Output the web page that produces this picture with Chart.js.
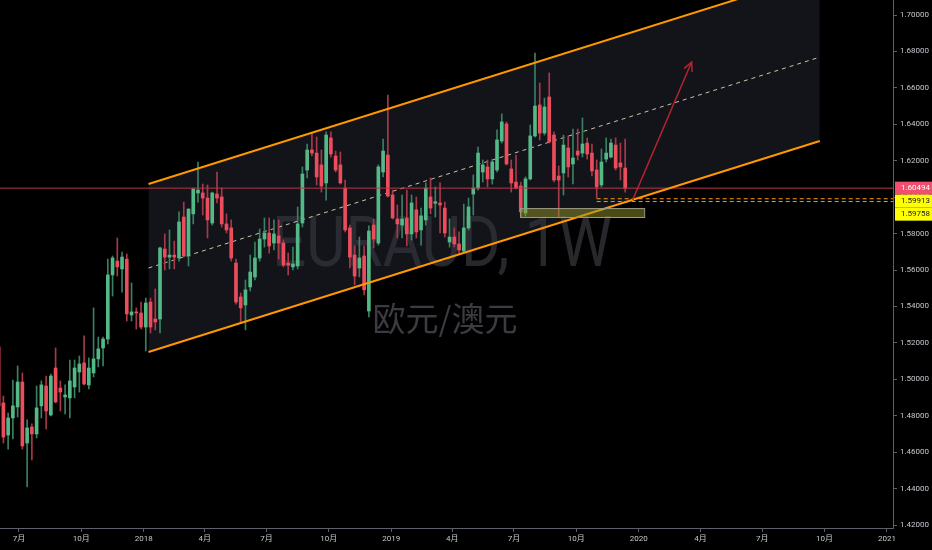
<!DOCTYPE html>
<html><head><meta charset="utf-8">
<script src="https://cdn.jsdelivr.net/npm/chart.js@4.4.0/dist/chart.umd.min.js"></script>
<style>html,body{margin:0;padding:0;background:#000;overflow:hidden}canvas{display:block}</style>
</head><body>
<canvas id="c" width="932" height="550"></canvas>
<script>
// ---- data (weekly EURAUD candles) ----
const firstBarDate = '2017-06-01';
const opens = [1.5178,1.4870,1.4694,1.4788,1.4848,1.4985,1.4650,1.4738,1.4700,1.4854,
1.4963,1.4804,1.5062,1.4952,1.4903,1.4898,1.4958,1.5040,1.5090,1.4969,
1.5035,1.5112,1.5172,1.5221,1.5573,1.5649,1.5606,1.5660,1.5353,1.5370,
1.5364,1.5287,1.5424,1.5331,1.5331,1.5715,1.5671,1.5682,1.5666,1.5891,
1.5677,1.5908,1.6023,1.6023,1.5995,1.5858,1.6017,1.6001,1.5853,1.5831,
1.5638,1.5452,1.5408,1.5507,1.5562,1.5666,1.5770,1.5803,1.5748,1.5787,
1.5748,1.5638,1.5617,1.5622,1.5858,1.6149,1.6259,1.6242,1.6177,1.6078,
1.6325,1.6226,1.6177,1.6050,1.5831,1.5682,1.5611,1.5677,1.5375,1.5847,
1.5748,1.6138,1.6231,1.6012,1.5880,1.5847,1.5886,1.5798,1.5930,1.5820,
1.5875,1.6001,1.5966,1.5968,1.5940,1.5754,1.5781,1.5743,1.5704,1.5831,
1.6017,1.6050,1.6138,1.6166,1.6100,1.6149,1.6308,1.6402,1.6155,1.6083,
1.6061,1.5913,1.6100,1.6336,1.6506,1.6352,1.6550,1.6341,1.6116,1.6133,
1.6270,1.6182,1.6253,1.6242,1.6297,1.6242,1.6149,1.6067,1.6209,1.6220,
1.6286,1.6188,1.6160];
const highs = [1.5189,1.4908,1.4815,1.4996,1.5073,1.5035,1.4777,1.4755,1.4963,1.4991,
1.5018,1.5029,1.5172,1.4991,1.4969,1.5106,1.5106,1.5128,1.5238,1.5117,
1.5392,1.5232,1.5232,1.5660,1.5677,1.5776,1.5699,1.5688,1.5529,1.5392,
1.5424,1.5446,1.5446,1.5496,1.5726,1.5798,1.5820,1.5759,1.5919,1.5973,
1.5935,1.6050,1.6193,1.6072,1.6067,1.6028,1.6138,1.6050,1.5908,1.5875,
1.5660,1.5474,1.5545,1.5682,1.5754,1.5825,1.5886,1.5886,1.5875,1.5875,
1.5765,1.5693,1.5726,1.5946,1.6166,1.6292,1.6352,1.6330,1.6259,1.6358,
1.6358,1.6253,1.6248,1.6094,1.5847,1.5732,1.5781,1.5732,1.5842,1.5880,
1.6177,1.6319,1.6561,1.6039,1.5957,1.6012,1.6039,1.6012,1.6001,1.5940,
1.6078,1.6105,1.6056,1.6078,1.5973,1.5880,1.5831,1.5809,1.5962,1.5995,
1.6122,1.6275,1.6204,1.6204,1.6209,1.6369,1.6457,1.6413,1.6204,1.6231,
1.6083,1.6111,1.6396,1.6791,1.6627,1.6544,1.6682,1.6358,1.6171,1.6341,
1.6336,1.6374,1.6374,1.6435,1.6325,1.6292,1.6204,1.6264,1.6325,1.6319,
1.6325,1.6297,1.6319];
const lows = [1.4821,1.4650,1.4617,1.4672,1.4793,1.4617,1.4409,1.4557,1.4678,1.4788,
1.4727,1.4799,1.4870,1.4826,1.4810,1.4788,1.4898,1.4930,1.4969,1.4947,
1.5013,1.5068,1.5073,1.5194,1.5457,1.5567,1.5479,1.5320,1.5320,1.5276,
1.5276,1.5156,1.5254,1.5271,1.5254,1.5600,1.5606,1.5606,1.5649,1.5671,
1.5622,1.5853,1.5973,1.5902,1.5776,1.5847,1.5968,1.5836,1.5803,1.5649,
1.5413,1.5309,1.5271,1.5485,1.5545,1.5649,1.5726,1.5693,1.5710,1.5660,
1.5617,1.5573,1.5600,1.5606,1.5836,1.6105,1.6226,1.6067,1.6028,1.5984,
1.6220,1.6138,1.6072,1.5809,1.5611,1.5518,1.5562,1.5463,1.5342,1.5721,
1.5737,1.6111,1.6001,1.5880,1.5776,1.5776,1.5732,1.5765,1.5776,1.5737,
1.5847,1.5908,1.5891,1.5803,1.5781,1.5726,1.5726,1.5693,1.5693,1.5820,
1.5902,1.6039,1.6083,1.6056,1.6072,1.6138,1.6297,1.6177,1.6028,1.6045,
1.5891,1.5897,1.6094,1.6330,1.6314,1.6341,1.6297,1.6083,1.5891,1.6012,
1.6111,1.6072,1.6204,1.6220,1.6209,1.6116,1.5995,1.6056,1.6193,1.6215,
1.6149,1.6094,1.6028];
const closes = [1.4854,1.4683,1.4788,1.4854,1.4985,1.4634,1.4733,1.4700,1.4843,1.4969,
1.4826,1.5018,1.4876,1.4930,1.4914,1.4991,1.5062,1.5084,1.4974,1.5062,
1.5112,1.5167,1.5221,1.5573,1.5666,1.5617,1.5671,1.5359,1.5370,1.5364,
1.5287,1.5419,1.5287,1.5315,1.5721,1.5671,1.5682,1.5671,1.5864,1.5677,
1.5935,1.6045,1.6039,1.5995,1.5875,1.6023,1.5995,1.5853,1.5820,1.5666,
1.5424,1.5392,1.5491,1.5589,1.5666,1.5770,1.5803,1.5732,1.5798,1.5748,
1.5627,1.5627,1.5633,1.5853,1.6127,1.6259,1.6242,1.6111,1.6061,1.6341,
1.6237,1.6149,1.6078,1.5820,1.5671,1.5567,1.5666,1.5491,1.5814,1.5770,
1.6166,1.6253,1.6006,1.5886,1.5853,1.5880,1.5798,1.5968,1.5809,1.5897,
1.6050,1.5940,1.5975,1.5957,1.5803,1.5781,1.5743,1.5710,1.5831,1.5946,
1.6050,1.6242,1.6177,1.6100,1.6193,1.6314,1.6413,1.6182,1.6078,1.6050,
1.5919,1.6100,1.6336,1.6500,1.6352,1.6495,1.6303,1.6094,1.6094,1.6286,
1.6166,1.6215,1.6231,1.6292,1.6237,1.6144,1.6056,1.6193,1.6242,1.6297,
1.6160,1.6166,1.60494];

const yTickValues = [1.42,1.44,1.46,1.48,1.50,1.52,1.54,1.56,1.58,1.60,1.62,1.64,1.66,1.68,1.70];
const xTickDates = ['2017-07-01','2017-10-01','2018-01-01','2018-04-01','2018-07-01','2018-10-01','2019-01-01','2019-04-01','2019-07-01','2019-10-01','2020-01-01','2020-04-01','2020-07-01','2020-10-01','2021-01-01'];
const xTickLabels = ['7月','10月','2018','4月','7月','10月','2019','4月','7月','10月','2020','4月','7月','10月','2021'];

// drawings (date, price)
const lastPrice = 1.60494;
const levelPrices = [1.59913, 1.59758];
const levelStart = '2019-10-31';
const channelUpper = [['2018-01-08', 1.60722], ['2020-09-24', 1.72289]];
const channelLower = [['2018-01-08', 1.51499], ['2020-09-24', 1.63083]];
const channelMid   = [['2018-01-08', 1.56110], ['2020-09-24', 1.67686]];
const arrowPts = [['2019-12-23', 1.5984], ['2020-03-19', 1.6742]];
const zoneRect = [['2019-07-10', 1.5940], ['2020-01-09', 1.5891]];
const viewRange = { xMin: -212, xMax: 1105, yMin: 1.41836, yMax: 1.70824 };

// ---- helpers ----
const BASE = Date.UTC(2018, 0, 1), DAY = 864e5;
const dayOf = s => { const [y, m, d] = s.split('-').map(Number); return (Date.UTC(y, m - 1, d) - BASE) / DAY; };
const x0 = dayOf(firstBarDate);
const barX = opens.map((_, i) => x0 + 7 * i);
const pts = arr => arr.map(([d, p]) => ({ x: dayOf(d), y: p }));

const UP = '#53b987', DOWN = '#eb4d5c', UPW = '#3a8062', DOWNW = '#a8394a';
const isUp = i => closes[i] >= opens[i];
const tickFont = { size: 8, family: "Roboto, 'Noto Sans CJK SC', sans-serif" };
const noPad = s => { s.paddingTop = 0; s.paddingBottom = 0; s.paddingLeft = 0; s.paddingRight = 0; };

const bgPlugin = {
  id: 'bg',
  beforeDraw(chart) { const c = chart.ctx; c.save(); c.fillStyle = '#000'; c.fillRect(0, 0, chart.width, chart.height); c.restore(); }
};
const watermark = {
  id: 'watermark',
  beforeDatasetsDraw(chart) {
    const c = chart.ctx; c.save();
    c.font = "70px Roboto, 'DejaVu Sans', sans-serif";
    c.fillStyle = 'rgba(95,95,105,0.42)';
    c.textBaseline = 'alphabetic';
    const t = 'EURAUD, 1W';
    const w = c.measureText(t).width;
    c.translate(272, 266); c.scale(340 / w, 1);
    c.fillText(t, 0, 0);
    c.restore(); c.save();
    c.font = "33px 'Noto Sans CJK SC', sans-serif";
    c.fillStyle = 'rgba(95,95,105,0.62)';
    c.textAlign = 'center'; c.textBaseline = 'middle';
    c.fillText('欧元/澳元', 445, 318);
    c.restore();
  }
};
const overlays = {
  id: 'overlays',
  afterDatasetsDraw(chart) {
    const c = chart.ctx, xs = chart.scales.x, ys = chart.scales.y;
    const [a, b] = pts(zoneRect);
    const rx1 = xs.getPixelForValue(a.x), rx2 = xs.getPixelForValue(b.x);
    const ry1 = ys.getPixelForValue(a.y), ry2 = ys.getPixelForValue(b.y);
    c.save();
    c.fillStyle = 'rgba(150,150,40,0.5)';
    c.fillRect(rx1, ry1, rx2 - rx1, ry2 - ry1);
    c.strokeStyle = '#9a9a88'; c.lineWidth = 1;
    c.strokeRect(rx1 + 0.5, ry1 + 0.5, rx2 - rx1, ry2 - ry1);
    const [s, e] = pts(arrowPts);
    const sx = xs.getPixelForValue(s.x), sy = ys.getPixelForValue(s.y);
    const ex = xs.getPixelForValue(e.x), ey = ys.getPixelForValue(e.y);
    const ang = Math.atan2(ey - sy, ex - sx), L = 10;
    c.strokeStyle = '#b8222f'; c.lineWidth = 1.5;
    c.beginPath();
    c.moveTo(ex - L * Math.cos(ang - 0.45), ey - L * Math.sin(ang - 0.45));
    c.lineTo(ex, ey);
    c.lineTo(ex - L * Math.cos(ang + 0.45), ey - L * Math.sin(ang + 0.45));
    c.stroke();
    c.restore();
  },
  afterDraw(chart) {
    const c = chart.ctx, ys = chart.scales.y, area = chart.chartArea;
    const left = area.right + 2, w = chart.width - left, h = 13;
    c.save();
    c.font = "8px Roboto, sans-serif"; c.textBaseline = 'middle';
    const py = ys.getPixelForValue(lastPrice);
    const top = py - h / 2;
    c.fillStyle = '#f0506e'; c.fillRect(left, top, w, h);
    c.fillStyle = '#ffffff'; c.fillText(lastPrice.toFixed(5), left + 6, py);
    let prevBottom = top + h;
    levelPrices.forEach(p => {
      const y = ys.getPixelForValue(p);
      const t = Math.max(y - h / 2, prevBottom);
      c.fillStyle = '#ffff00'; c.fillRect(left, t, w, h);
      c.fillStyle = '#222'; c.fillText(p.toFixed(5), left + 6, t + h / 2);
      prevBottom = t + h;
    });
    c.restore();
  }
};

const lineDs = (data, color, extra) => Object.assign({
  type: 'line', data, borderColor: color, borderWidth: 1, pointRadius: 0, tension: 0, fill: false
}, extra || {});

new Chart(document.getElementById('c'), {
  type: 'bar',
  data: {
    datasets: [
      lineDs(pts(channelUpper), 'rgba(0,0,0,0)', { borderWidth: 0, fill: '+1', backgroundColor: 'rgba(46,46,62,0.42)', order: 30 }),
      lineDs(pts(channelLower), 'rgba(0,0,0,0)', { borderWidth: 0, order: 31 }),
      lineDs(pts(channelMid), '#c9c6a0', { borderDash: [4, 4], order: 20 }),
      { type: 'bar', data: barX.map((x, i) => ({ x, y: [lows[i], highs[i]] })), grouped: false, barThickness: 1,
        backgroundColor: ctx => isUp(ctx.dataIndex) ? UPW : DOWNW, borderWidth: 0, order: 12 },
      { type: 'bar', data: barX.map((x, i) => ({ x, y: [opens[i], closes[i]] })), grouped: false, barThickness: 3, minBarLength: 1,
        backgroundColor: ctx => isUp(ctx.dataIndex) ? UP : DOWN, borderWidth: 0, order: 11 },
      lineDs([{ x: viewRange.xMin, y: lastPrice }, { x: viewRange.xMax, y: lastPrice }], '#b83646', { order: 9 }),
      lineDs(pts(channelUpper), '#ff9800', { borderWidth: 2, order: 8 }),
      lineDs(pts(channelLower), '#ff9800', { borderWidth: 2, order: 7 }),
      lineDs([{ x: dayOf(levelStart), y: levelPrices[0] }, { x: viewRange.xMax, y: levelPrices[0] }], '#ff9800', { borderDash: [4, 3], order: 6 }),
      lineDs([{ x: dayOf(levelStart), y: levelPrices[1] }, { x: viewRange.xMax, y: levelPrices[1] }], '#ff9800', { borderDash: [4, 3], order: 5 }),
      lineDs(pts(arrowPts), '#b8222f', { borderWidth: 1.5, order: 4 })
    ]
  },
  options: {
    responsive: false, animation: false, events: [],
    layout: { padding: 0 },
    plugins: { legend: { display: false }, tooltip: { enabled: false } },
    scales: {
      x: {
        type: 'linear', min: viewRange.xMin, max: viewRange.xMax, offset: false,
        afterBuildTicks: s => { s.ticks = xTickDates.map(d => ({ value: dayOf(d) })); },
        afterFit: s => { s.height = 22; noPad(s); },
        grid: { display: true, drawOnChartArea: false, drawTicks: true, tickLength: 4, color: '#5d606b', offset: false },
        border: { display: true, color: '#5d606b' },
        ticks: { autoSkip: false, maxRotation: 0, padding: 2, color: '#c5c8ce', font: tickFont,
          callback: (v, i) => xTickLabels[i] }
      },
      y: {
        position: 'right', min: viewRange.yMin, max: viewRange.yMax,
        afterBuildTicks: s => { s.ticks = yTickValues.map(v => ({ value: v })); },
        afterFit: s => { s.width = 39; noPad(s); },
        grid: { display: true, drawOnChartArea: false, drawTicks: true, tickLength: 4, color: '#5d606b' },
        border: { display: true, color: '#5d606b' },
        ticks: { padding: 3, color: '#c5c8ce', font: tickFont, callback: v => Number(v).toFixed(5) }
      }
    }
  },
  plugins: [bgPlugin, watermark, overlays]
});
</script>
</body></html>
